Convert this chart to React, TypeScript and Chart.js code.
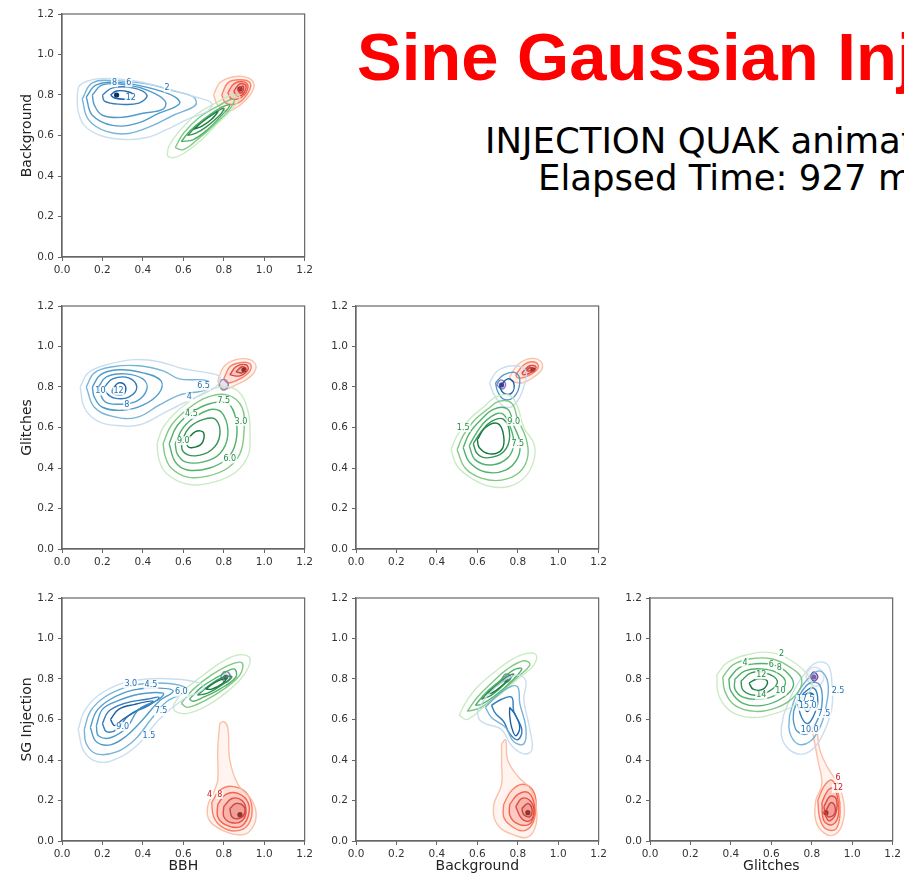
import React, { useEffect, useRef } from "react";
import { Chart, registerables } from "chart.js";
Chart.register(...registerables);

// ---------- text / axes ----------
const TITLE = "Sine Gaussian Injection";
const SUBTITLE_1 = "INJECTION QUAK animation";
const SUBTITLE_2 = "Elapsed Time: 927 ms";
const CLASS_NAMES = ["BBH", "Background", "Glitches", "SG Injection"];
const TICK_VALUES = [0, 0.2, 0.4, 0.6, 0.8, 1.0, 1.2];
const TICK_LABELS = ["0.0", "0.2", "0.4", "0.6", "0.8", "1.0", "1.2"];

type Pt = [number, number];
type Ring = Pt[];

// ---------- panel A: BBH (x) vs Background (y) ----------
const A_BLUE: Ring[] = [
  [[0.075,0.80],[0.09,0.85],[0.18,0.88],[0.32,0.875],[0.45,0.85],[0.56,0.82],[0.66,0.79],[0.74,0.76],[0.72,0.72],[0.62,0.68],[0.52,0.63],[0.42,0.59],[0.31,0.58],[0.19,0.60],[0.11,0.65],[0.08,0.72]],
  [[0.10,0.78],[0.15,0.86],[0.28,0.87],[0.42,0.855],[0.55,0.82],[0.65,0.79],[0.66,0.75],[0.55,0.70],[0.45,0.65],[0.33,0.61],[0.22,0.62],[0.13,0.68]],
  [[0.12,0.79],[0.17,0.85],[0.30,0.86],[0.45,0.83],[0.56,0.79],[0.58,0.755],[0.48,0.71],[0.37,0.66],[0.25,0.65],[0.15,0.70]],
  [[0.15,0.80],[0.20,0.85],[0.32,0.85],[0.43,0.82],[0.51,0.77],[0.50,0.73],[0.40,0.71],[0.30,0.69],[0.20,0.70],[0.16,0.75]],
  [[0.20,0.80],[0.25,0.835],[0.35,0.835],[0.42,0.80],[0.38,0.76],[0.28,0.755],[0.21,0.77]],
  [[0.24,0.80],[0.27,0.82],[0.33,0.815],[0.36,0.795],[0.32,0.78],[0.26,0.785]],
];
const A_BLUE_PEAK: Pt = [0.27, 0.80];
const A_GREEN: Ring[] = [
  [[0.52,0.50],[0.53,0.55],[0.58,0.62],[0.66,0.70],[0.76,0.76],[0.84,0.80],[0.88,0.79],[0.84,0.73],[0.76,0.65],[0.68,0.57],[0.60,0.51],[0.55,0.49]],
  [[0.56,0.54],[0.60,0.61],[0.68,0.69],[0.78,0.75],[0.85,0.78],[0.83,0.73],[0.75,0.65],[0.67,0.58],[0.60,0.53]],
  [[0.59,0.57],[0.63,0.62],[0.70,0.68],[0.79,0.74],[0.83,0.75],[0.79,0.70],[0.72,0.63],[0.65,0.58]],
  [[0.62,0.60],[0.67,0.65],[0.74,0.70],[0.80,0.735],[0.78,0.70],[0.71,0.64],[0.66,0.61]],
  [[0.65,0.63],[0.71,0.68],[0.77,0.72],[0.74,0.68],[0.69,0.645]],
];
const A_RED: Ring[] = [
  [[0.75,0.80],[0.78,0.86],[0.85,0.89],[0.92,0.885],[0.95,0.85],[0.93,0.80],[0.88,0.75],[0.82,0.72],[0.77,0.75]],
  [[0.79,0.80],[0.82,0.86],[0.88,0.875],[0.93,0.86],[0.92,0.81],[0.87,0.76],[0.81,0.76]],
  [[0.82,0.81],[0.85,0.855],[0.90,0.865],[0.92,0.84],[0.89,0.79],[0.84,0.78]],
  [[0.85,0.82],[0.88,0.855],[0.91,0.845],[0.89,0.80],[0.86,0.80]],
  [[0.87,0.825],[0.895,0.845],[0.895,0.82],[0.88,0.81]],
];
const A_RED_PEAK: Pt = [0.88, 0.83];
const A_LABELS: [number, number, string, string][] = [
  [0.34, 0.785, "12", "Blues"], [0.26, 0.86, "8", "Blues"], [0.33, 0.86, "6", "Blues"], [0.52, 0.835, "2", "Blues"],
];

// ---------- panel B: BBH (x) vs Glitches (y) ----------
const B_BLUE: Ring[] = [
  [[0.09,0.80],[0.13,0.87],[0.22,0.91],[0.36,0.935],[0.48,0.925],[0.60,0.89],[0.72,0.87],[0.78,0.85],[0.76,0.80],[0.62,0.73],[0.50,0.67],[0.39,0.615],[0.27,0.61],[0.17,0.635],[0.11,0.70]],
  [[0.12,0.80],[0.16,0.87],[0.25,0.90],[0.38,0.905],[0.50,0.88],[0.58,0.84],[0.72,0.83],[0.72,0.79],[0.58,0.76],[0.48,0.71],[0.37,0.65],[0.25,0.655],[0.16,0.70]],
  [[0.15,0.80],[0.19,0.86],[0.28,0.885],[0.40,0.87],[0.49,0.83],[0.48,0.77],[0.40,0.71],[0.30,0.685],[0.20,0.70],[0.16,0.75]],
  [[0.18,0.80],[0.22,0.85],[0.31,0.865],[0.40,0.84],[0.42,0.79],[0.37,0.73],[0.28,0.715],[0.21,0.73]],
  [[0.21,0.80],[0.25,0.84],[0.33,0.845],[0.37,0.80],[0.33,0.75],[0.26,0.745],[0.22,0.77]],
  [[0.25,0.79],[0.28,0.82],[0.31,0.81],[0.31,0.77],[0.28,0.76],[0.25,0.77]],
];
const B_GREEN: Ring[] = [
  [[0.47,0.52],[0.50,0.60],[0.58,0.69],[0.68,0.76],[0.78,0.80],[0.87,0.78],[0.92,0.68],[0.93,0.55],[0.92,0.46],[0.86,0.38],[0.75,0.33],[0.62,0.32],[0.52,0.37],[0.48,0.44]],
  [[0.50,0.52],[0.54,0.61],[0.62,0.69],[0.72,0.75],[0.82,0.76],[0.89,0.70],[0.90,0.58],[0.88,0.47],[0.82,0.40],[0.72,0.36],[0.62,0.355],[0.54,0.40],[0.51,0.46]],
  [[0.53,0.52],[0.57,0.61],[0.65,0.68],[0.74,0.72],[0.82,0.72],[0.86,0.64],[0.86,0.53],[0.82,0.45],[0.73,0.40],[0.62,0.39],[0.56,0.43]],
  [[0.56,0.52],[0.60,0.60],[0.67,0.66],[0.75,0.69],[0.80,0.66],[0.82,0.56],[0.78,0.47],[0.70,0.43],[0.61,0.43],[0.57,0.47]],
  [[0.59,0.53],[0.63,0.60],[0.70,0.64],[0.76,0.64],[0.78,0.56],[0.74,0.49],[0.66,0.46],[0.60,0.48]],
  [[0.62,0.54],[0.66,0.58],[0.70,0.575],[0.69,0.52],[0.64,0.50],[0.62,0.51]],
];
const B_RED: Ring[] = [
  [[0.77,0.83],[0.80,0.90],[0.86,0.935],[0.93,0.935],[0.96,0.90],[0.93,0.85],[0.86,0.81],[0.80,0.79]],
  [[0.80,0.84],[0.83,0.90],[0.88,0.92],[0.93,0.915],[0.93,0.88],[0.88,0.84],[0.82,0.82]],
  [[0.83,0.86],[0.86,0.90],[0.91,0.91],[0.92,0.885],[0.88,0.855]],
  [[0.86,0.875],[0.89,0.90],[0.91,0.89],[0.89,0.87]],
];
const B_RED_PEAK: Pt = [0.90, 0.885];
const B_PURPLE: Ring[] = [
  [[0.775,0.81],[0.79,0.835],[0.815,0.83],[0.82,0.80],[0.795,0.785]],
];
const B_LABELS: [number, number, string, string][] = [
  [0.28, 0.78, "12", "Blues"], [0.32, 0.71, "8", "Blues"], [0.19, 0.78, "10", "Blues"], [0.63, 0.75, "4", "Blues"], [0.70, 0.805, "6.5", "Blues"],
  [0.80, 0.73, "7.5", "Greens"], [0.64, 0.665, "4.5", "Greens"], [0.60, 0.535, "9.0", "Greens"], [0.83, 0.445, "6.0", "Greens"], [0.885, 0.63, "3.0", "Greens"],
];

// ---------- panel C: Background (x) vs Glitches (y) ----------
const C_GREEN: Ring[] = [
  [[0.47,0.49],[0.50,0.56],[0.56,0.64],[0.63,0.70],[0.69,0.75],[0.76,0.76],[0.80,0.70],[0.83,0.60],[0.88,0.52],[0.88,0.44],[0.84,0.36],[0.76,0.31],[0.66,0.31],[0.57,0.35],[0.50,0.41]],
  [[0.50,0.49],[0.53,0.56],[0.58,0.63],[0.65,0.69],[0.71,0.73],[0.77,0.72],[0.80,0.64],[0.84,0.55],[0.85,0.46],[0.81,0.38],[0.72,0.34],[0.62,0.35],[0.54,0.40]],
  [[0.53,0.50],[0.56,0.57],[0.61,0.63],[0.68,0.69],[0.75,0.69],[0.78,0.61],[0.81,0.53],[0.80,0.45],[0.74,0.39],[0.64,0.38],[0.56,0.43]],
  [[0.56,0.51],[0.60,0.58],[0.65,0.64],[0.72,0.67],[0.76,0.61],[0.78,0.52],[0.75,0.45],[0.67,0.415],[0.59,0.44]],
  [[0.58,0.52],[0.62,0.58],[0.67,0.63],[0.73,0.64],[0.76,0.56],[0.73,0.48],[0.65,0.45],[0.60,0.47]],
  [[0.60,0.54],[0.64,0.60],[0.70,0.62],[0.73,0.56],[0.72,0.49],[0.66,0.47],[0.61,0.50]],
];
const C_BLUE: Ring[] = [
  [[0.66,0.82],[0.70,0.88],[0.78,0.905],[0.84,0.88],[0.83,0.80],[0.79,0.72],[0.74,0.70],[0.69,0.75]],
  [[0.69,0.82],[0.73,0.86],[0.79,0.87],[0.81,0.82],[0.78,0.75],[0.73,0.74],[0.70,0.78]],
  [[0.71,0.80],[0.75,0.84],[0.78,0.82],[0.77,0.77],[0.73,0.77]],
];
const C_RED: Ring[] = [
  [[0.76,0.85],[0.80,0.91],[0.86,0.94],[0.91,0.93],[0.92,0.89],[0.88,0.85],[0.82,0.82],[0.77,0.83]],
  [[0.79,0.86],[0.83,0.91],[0.87,0.925],[0.90,0.91],[0.89,0.88],[0.84,0.85],[0.80,0.845]],
  [[0.82,0.87],[0.86,0.905],[0.89,0.90],[0.87,0.875],[0.83,0.86]],
  [[0.84,0.88],[0.86,0.895],[0.875,0.89],[0.86,0.88]],
];
const C_RED_PEAK: Pt = [0.875, 0.885];
const C_PURPLE: Ring[] = [
  [[0.695,0.81],[0.715,0.835],[0.74,0.815],[0.725,0.79]],
];
const C_PURPLE_PEAK: Pt = [0.72, 0.81];
const C_LABELS: [number, number, string, string][] = [
  [0.78, 0.63, "9.0", "Greens"], [0.53, 0.60, "1.5", "Greens"], [0.80, 0.52, "7.5", "Greens"],
];

// ---------- panel D: BBH (x) vs SG Injection (y) ----------
const D_BLUE: Ring[] = [
  [[0.08,0.55],[0.11,0.64],[0.18,0.72],[0.30,0.78],[0.42,0.80],[0.55,0.80],[0.68,0.78],[0.70,0.75],[0.60,0.70],[0.48,0.60],[0.38,0.48],[0.28,0.41],[0.18,0.39],[0.11,0.44]],
  [[0.11,0.55],[0.14,0.64],[0.21,0.71],[0.32,0.76],[0.45,0.78],[0.58,0.77],[0.62,0.74],[0.52,0.69],[0.44,0.60],[0.36,0.50],[0.27,0.44],[0.17,0.43],[0.12,0.48]],
  [[0.14,0.56],[0.17,0.64],[0.24,0.70],[0.35,0.745],[0.48,0.755],[0.55,0.74],[0.48,0.69],[0.40,0.60],[0.32,0.52],[0.24,0.475],[0.17,0.49]],
  [[0.17,0.57],[0.20,0.65],[0.27,0.69],[0.38,0.725],[0.50,0.73],[0.48,0.70],[0.38,0.65],[0.32,0.56],[0.24,0.51],[0.18,0.52]],
  [[0.20,0.58],[0.23,0.64],[0.31,0.68],[0.42,0.70],[0.48,0.71],[0.43,0.67],[0.33,0.62],[0.27,0.55],[0.22,0.54]],
  [[0.24,0.60],[0.28,0.65],[0.36,0.675],[0.45,0.69],[0.38,0.65],[0.30,0.60],[0.26,0.57]],
];
const D_GREEN: Ring[] = [
  [[0.55,0.67],[0.60,0.74],[0.70,0.82],[0.80,0.89],[0.88,0.92],[0.93,0.90],[0.90,0.82],[0.82,0.74],[0.72,0.67],[0.62,0.63],[0.56,0.64]],
  [[0.59,0.68],[0.65,0.75],[0.74,0.82],[0.83,0.87],[0.89,0.88],[0.88,0.82],[0.80,0.75],[0.70,0.69],[0.62,0.66]],
  [[0.63,0.70],[0.69,0.76],[0.77,0.81],[0.85,0.85],[0.86,0.81],[0.78,0.75],[0.70,0.71],[0.65,0.69]],
  [[0.67,0.72],[0.73,0.77],[0.80,0.81],[0.84,0.81],[0.79,0.77],[0.72,0.73]],
  [[0.71,0.75],[0.76,0.785],[0.81,0.80],[0.79,0.775],[0.74,0.75]],
];
const D_PURPLE: Ring[] = [
  [[0.785,0.81],[0.80,0.835],[0.825,0.83],[0.83,0.80],[0.805,0.785]],
];
const D_PURPLE_PEAK: Pt = [0.81, 0.81];
const D_RED: Ring[] = [
  [[0.78,0.58],[0.80,0.59],[0.82,0.56],[0.83,0.40],[0.87,0.28],[0.94,0.20],[0.96,0.12],[0.93,0.05],[0.88,0.03],[0.80,0.05],[0.73,0.10],[0.72,0.17],[0.75,0.24],[0.77,0.30],[0.77,0.45]],
  [[0.74,0.19],[0.78,0.25],[0.84,0.27],[0.91,0.24],[0.94,0.16],[0.92,0.08],[0.86,0.05],[0.79,0.07],[0.75,0.12]],
  [[0.77,0.18],[0.81,0.23],[0.87,0.235],[0.92,0.19],[0.92,0.12],[0.88,0.07],[0.81,0.08],[0.77,0.12]],
  [[0.80,0.17],[0.84,0.21],[0.89,0.20],[0.91,0.15],[0.89,0.10],[0.84,0.09],[0.80,0.12]],
  [[0.83,0.16],[0.86,0.185],[0.90,0.17],[0.90,0.13],[0.87,0.11],[0.84,0.12]],
];
const D_RED_PEAK: Pt = [0.88, 0.13];
const D_LABELS: [number, number, string, string][] = [
  [0.34, 0.775, "3.0", "Blues"], [0.44, 0.77, "4.5", "Blues"], [0.30, 0.565, "9.0", "Blues"], [0.49, 0.64, "7.5", "Blues"],
  [0.43, 0.52, "1.5", "Blues"], [0.59, 0.735, "6.0", "Blues"], [0.78, 0.23, "8", "Reds"], [0.73, 0.23, "4", "Reds"],
];

// ---------- panel E: Background (x) vs SG Injection (y) ----------
const E_GREEN: Ring[] = [
  [[0.51,0.62],[0.54,0.68],[0.60,0.76],[0.68,0.83],[0.76,0.89],[0.84,0.925],[0.89,0.92],[0.88,0.87],[0.80,0.80],[0.72,0.73],[0.63,0.66],[0.55,0.60]],
  [[0.55,0.64],[0.60,0.71],[0.67,0.78],[0.75,0.85],[0.83,0.89],[0.86,0.87],[0.80,0.81],[0.71,0.73],[0.62,0.66]],
  [[0.59,0.67],[0.64,0.73],[0.71,0.79],[0.78,0.845],[0.82,0.85],[0.77,0.79],[0.69,0.72],[0.62,0.675]],
  [[0.62,0.70],[0.67,0.75],[0.73,0.80],[0.78,0.825],[0.74,0.78],[0.67,0.72]],
  [[0.65,0.73],[0.70,0.77],[0.75,0.80],[0.72,0.765],[0.67,0.73]],
];
const E_BLUE: Ring[] = [
  [[0.60,0.64],[0.65,0.72],[0.73,0.79],[0.80,0.82],[0.84,0.79],[0.83,0.70],[0.86,0.55],[0.87,0.45],[0.83,0.43],[0.77,0.47],[0.72,0.55],[0.64,0.58],[0.61,0.60]],
  [[0.64,0.66],[0.69,0.71],[0.76,0.76],[0.80,0.76],[0.81,0.68],[0.84,0.56],[0.83,0.48],[0.78,0.49],[0.74,0.56],[0.67,0.61]],
  [[0.67,0.67],[0.72,0.70],[0.77,0.71],[0.78,0.64],[0.82,0.55],[0.80,0.50],[0.76,0.53],[0.73,0.59],[0.69,0.63]],
  [[0.76,0.66],[0.79,0.62],[0.81,0.56],[0.79,0.52],[0.77,0.56],[0.76,0.62]],
];
const E_PURPLE: Ring[] = [
  [[0.72,0.80],[0.74,0.825],[0.765,0.81],[0.75,0.785]],
];
const E_RED: Ring[] = [
  [[0.72,0.48],[0.74,0.50],[0.75,0.40],[0.80,0.32],[0.86,0.26],[0.89,0.18],[0.89,0.08],[0.85,0.02],[0.78,0.03],[0.70,0.08],[0.68,0.17],[0.72,0.28],[0.72,0.38]],
  [[0.73,0.18],[0.77,0.25],[0.83,0.28],[0.88,0.24],[0.89,0.16],[0.87,0.08],[0.82,0.05],[0.76,0.08],[0.73,0.12]],
  [[0.76,0.18],[0.80,0.23],[0.85,0.24],[0.88,0.19],[0.88,0.12],[0.85,0.08],[0.79,0.09],[0.76,0.13]],
  [[0.79,0.17],[0.82,0.21],[0.86,0.20],[0.88,0.15],[0.86,0.10],[0.82,0.11]],
  [[0.82,0.16],[0.85,0.185],[0.87,0.16],[0.86,0.12],[0.83,0.13]],
];
const E_RED_PEAK: Pt = [0.85, 0.14];
const E_LABELS: [number, number, string, string][] = [];

// ---------- panel F: Glitches (x) vs SG Injection (y) ----------
const F_GREEN: Ring[] = [
  [[0.33,0.82],[0.38,0.88],[0.48,0.92],[0.60,0.93],[0.70,0.89],[0.78,0.82],[0.80,0.76],[0.73,0.68],[0.62,0.63],[0.50,0.61],[0.40,0.64],[0.34,0.72]],
  [[0.36,0.81],[0.41,0.87],[0.50,0.90],[0.60,0.90],[0.69,0.86],[0.75,0.80],[0.72,0.72],[0.63,0.66],[0.52,0.64],[0.42,0.67],[0.37,0.74]],
  [[0.39,0.80],[0.44,0.855],[0.52,0.875],[0.61,0.87],[0.68,0.83],[0.71,0.77],[0.66,0.71],[0.56,0.67],[0.46,0.68],[0.40,0.74]],
  [[0.42,0.80],[0.47,0.84],[0.55,0.85],[0.63,0.83],[0.67,0.78],[0.62,0.72],[0.54,0.70],[0.46,0.71],[0.42,0.75]],
  [[0.45,0.79],[0.50,0.83],[0.57,0.83],[0.63,0.79],[0.59,0.74],[0.52,0.72],[0.46,0.745]],
  [[0.49,0.78],[0.53,0.80],[0.58,0.79],[0.56,0.75],[0.51,0.75]],
];
const F_BLUE: Ring[] = [
  [[0.66,0.62],[0.70,0.72],[0.76,0.82],[0.82,0.88],[0.88,0.87],[0.90,0.78],[0.90,0.66],[0.87,0.56],[0.82,0.47],[0.76,0.43],[0.69,0.45],[0.65,0.52]],
  [[0.69,0.62],[0.72,0.71],[0.78,0.80],[0.84,0.84],[0.88,0.78],[0.87,0.66],[0.84,0.56],[0.79,0.49],[0.73,0.48],[0.69,0.54]],
  [[0.71,0.64],[0.74,0.72],[0.79,0.78],[0.84,0.77],[0.85,0.67],[0.82,0.58],[0.78,0.53],[0.73,0.54],[0.71,0.59]],
  [[0.73,0.68],[0.76,0.73],[0.81,0.755],[0.83,0.69],[0.81,0.62],[0.78,0.58],[0.75,0.61]],
  [[0.75,0.70],[0.78,0.73],[0.81,0.72],[0.80,0.67],[0.78,0.64],[0.76,0.66]],
];
const F_PURPLE: Ring[] = [
  [[0.77,0.81],[0.79,0.85],[0.83,0.855],[0.86,0.82],[0.84,0.77],[0.80,0.77]],
  [[0.79,0.81],[0.81,0.835],[0.83,0.81],[0.81,0.79]],
];
const F_PURPLE_PEAK: Pt = [0.81, 0.81];
const F_RED: Ring[] = [
  [[0.80,0.56],[0.82,0.57],[0.84,0.45],[0.88,0.36],[0.93,0.28],[0.96,0.18],[0.95,0.08],[0.91,0.03],[0.86,0.04],[0.82,0.10],[0.82,0.20],[0.85,0.28],[0.83,0.40]],
  [[0.83,0.20],[0.86,0.27],[0.90,0.30],[0.93,0.24],[0.94,0.14],[0.92,0.06],[0.87,0.06],[0.84,0.11]],
  [[0.85,0.19],[0.88,0.25],[0.91,0.26],[0.93,0.20],[0.93,0.12],[0.90,0.08],[0.86,0.10]],
  [[0.86,0.17],[0.89,0.22],[0.92,0.21],[0.92,0.14],[0.89,0.10],[0.87,0.12]],
  [[0.87,0.15],[0.895,0.19],[0.915,0.17],[0.91,0.13],[0.88,0.12]],
];
const F_RED_PEAK: Pt = [0.87, 0.14];
const F_LABELS: [number, number, string, string][] = [
  [0.65, 0.925, "2", "Greens"], [0.47, 0.88, "4", "Greens"], [0.60, 0.87, "6", "Greens"], [0.64, 0.855, "8", "Greens"],
  [0.55, 0.82, "12", "Greens"], [0.55, 0.72, "14", "Greens"], [0.645, 0.74, "10", "Greens"],
  [0.77, 0.70, "17.5", "Blues"], [0.78, 0.665, "15.0", "Blues"], [0.79, 0.55, "10.0", "Blues"], [0.86, 0.63, "7.5", "Blues"], [0.93, 0.74, "2.5", "Blues"],
  [0.93, 0.31, "6", "Reds"], [0.93, 0.26, "12", "Reds"],
];

// ---------- styling ----------
const CMAPS: Record<string, string[]> = {
  Blues: ["#c6dbef", "#9ecae1", "#6baed6", "#4292c6", "#2171b5", "#08519c", "#08306b"],
  Greens: ["#c7e9c0", "#a1d99b", "#74c476", "#41ab5d", "#238b45", "#006d2c", "#00441b"],
  Reds: ["#fcbba1", "#fc9272", "#fb6a4a", "#ef3b2c", "#cb181d", "#a50f15", "#67000d"],
  Purples: ["#dadaeb", "#bcbddc", "#9e9ac8", "#807dba", "#6a51a3", "#54278f", "#3f007d"],
};
const FONT = "'DejaVu Sans', sans-serif";
const AXIS_COLOR = "#666";

interface Blob { cmap: string; rings: Ring[]; peak?: Pt; peakColor?: string; fill?: boolean }
interface PanelCfg { left: number; top: number; h: number; xTitle: string; yTitle: string; blobs: Blob[]; labels: [number, number, string, string][] }

const PANELS: PanelCfg[] = [
  { left: 0, top: 0, h: 287, xTitle: "", yTitle: CLASS_NAMES[1], labels: A_LABELS, blobs: [
    { cmap: "Blues", rings: A_BLUE, peak: A_BLUE_PEAK, peakColor: "#08306b" },
    { cmap: "Greens", rings: A_GREEN },
    { cmap: "Reds", rings: A_RED, peak: A_RED_PEAK, peakColor: "#2a0000", fill: true },
  ] },
  { left: 0, top: 292, h: 287, xTitle: "", yTitle: CLASS_NAMES[2], labels: B_LABELS, blobs: [
    { cmap: "Blues", rings: B_BLUE },
    { cmap: "Greens", rings: B_GREEN },
    { cmap: "Purples", rings: B_PURPLE, fill: true },
    { cmap: "Reds", rings: B_RED, peak: B_RED_PEAK, peakColor: "#2a0000", fill: true },
  ] },
  { left: 294, top: 292, h: 287, xTitle: "", yTitle: "", labels: C_LABELS, blobs: [
    { cmap: "Greens", rings: C_GREEN },
    { cmap: "Blues", rings: C_BLUE },
    { cmap: "Purples", rings: C_PURPLE, peak: C_PURPLE_PEAK, peakColor: "#54278f", fill: true },
    { cmap: "Reds", rings: C_RED, peak: C_RED_PEAK, peakColor: "#2a0000", fill: true },
  ] },
  { left: 0, top: 584, h: 295, xTitle: CLASS_NAMES[0], yTitle: CLASS_NAMES[3], labels: D_LABELS, blobs: [
    { cmap: "Blues", rings: D_BLUE },
    { cmap: "Greens", rings: D_GREEN },
    { cmap: "Purples", rings: D_PURPLE, peak: D_PURPLE_PEAK, peakColor: "#666", fill: true },
    { cmap: "Reds", rings: D_RED, peak: D_RED_PEAK, peakColor: "#1a0000", fill: true },
  ] },
  { left: 294, top: 584, h: 295, xTitle: CLASS_NAMES[1], yTitle: "", labels: E_LABELS, blobs: [
    { cmap: "Blues", rings: E_BLUE },
    { cmap: "Greens", rings: E_GREEN },
    { cmap: "Purples", rings: E_PURPLE, fill: true },
    { cmap: "Reds", rings: E_RED, peak: E_RED_PEAK, peakColor: "#1a0000", fill: true },
  ] },
  { left: 588, top: 584, h: 295, xTitle: CLASS_NAMES[2], yTitle: "", labels: F_LABELS, blobs: [
    { cmap: "Greens", rings: F_GREEN },
    { cmap: "Blues", rings: F_BLUE },
    { cmap: "Purples", rings: F_PURPLE, peak: F_PURPLE_PEAK, peakColor: "#6a51a3", fill: true },
    { cmap: "Reds", rings: F_RED, peak: F_RED_PEAK, peakColor: "#1a0000", fill: true },
  ] },
];

function rgba(hex: string, a: number) {
  const n = parseInt(hex.slice(1), 16);
  return `rgba(${(n >> 16) & 255},${(n >> 8) & 255},${n & 255},${a})`;
}

function buildDatasets(blobs: Blob[]) {
  const ds: any[] = [];
  blobs.forEach((b) => {
    const cm = CMAPS[b.cmap];
    const n = b.rings.length;
    b.rings.forEach((ring, i) => {
      const ci = n === 1 ? 3 : Math.round(1 + (i * 4) / (n - 1)) - (i === 0 ? 1 : 0);
      const col = cm[Math.min(6, ci)];
      ds.push({
        data: ring.concat([ring[0]]).map(([x, y]) => ({ x, y })),
        showLine: true,
        borderColor: rgba(col, 0.92),
        borderWidth: 1.4,
        pointRadius: 0,
        tension: 0.4,
        fill: b.fill ? "shape" : false,
        backgroundColor: b.fill ? rgba(col, 0.16) : "transparent",
      });
    });
    if (b.peak) {
      ds.push({
        data: [{ x: b.peak[0], y: b.peak[1] }],
        showLine: false,
        pointRadius: 2.6,
        pointBorderWidth: 0,
        backgroundColor: b.peakColor,
        borderColor: b.peakColor,
      });
    }
  });
  return ds;
}

function Panel({ cfg }: { cfg: PanelCfg }) {
  const ref = useRef<HTMLCanvasElement>(null);
  useEffect(() => {
    const HX = cfg.h - 14 - 243;
    const frame = {
      id: "frame",
      afterDraw(chart: any) {
        const { ctx, chartArea: a } = chart;
        ctx.save();
        ctx.strokeStyle = AXIS_COLOR;
        ctx.lineWidth = 1.2;
        ctx.strokeRect(a.left, a.top, a.right - a.left, a.bottom - a.top);
        ctx.restore();
      },
    };
    const clabels = {
      id: "clabels",
      afterDatasetsDraw(chart: any) {
        const { ctx } = chart;
        const xs = chart.scales.x, ys = chart.scales.y;
        ctx.save();
        ctx.font = `8px ${FONT}`;
        ctx.textAlign = "center";
        ctx.textBaseline = "middle";
        cfg.labels.forEach(([vx, vy, text, cmap]) => {
          const px = xs.getPixelForValue(vx), py = ys.getPixelForValue(vy);
          const w = ctx.measureText(text).width;
          ctx.fillStyle = "rgba(255,255,255,0.85)";
          ctx.fillRect(px - w / 2 - 1, py - 4.5, w + 2, 9);
          ctx.fillStyle = CMAPS[cmap][4];
          ctx.fillText(text, px, py);
        });
        ctx.restore();
      },
    };
    const tickFont = { family: FONT, size: 10.5 };
    const titleFont = { family: FONT, size: 14 };
    const chart = new Chart(ref.current!, {
      type: "scatter",
      data: { datasets: buildDatasets(cfg.blobs) },
      plugins: [clabels, frame],
      options: {
        animation: false,
        responsive: false,
        maintainAspectRatio: false,
        layout: { padding: { top: 14, right: 10, left: 0, bottom: 0 } },
        plugins: { legend: { display: false }, tooltip: { enabled: false } },
        elements: { line: { capBezierPoints: true } },
        scales: {
          x: {
            type: "linear", min: 0, max: 1.2,
            afterBuildTicks: (s: any) => { s.ticks = TICK_VALUES.map((v) => ({ value: v })); },
            afterFit: (s: any) => { s.height = HX; },
            ticks: { callback: (_v: any, i: number) => TICK_LABELS[i], font: tickFont, color: "#333", padding: 3, maxRotation: 0, autoSkip: false },
            grid: { drawOnChartArea: false, drawTicks: true, tickLength: 4, color: AXIS_COLOR, lineWidth: 1 },
            border: { display: true, color: AXIS_COLOR, width: 1.2 },
            title: { display: !!cfg.xTitle, text: cfg.xTitle, font: titleFont, color: "#222", padding: { top: 0, bottom: 4 } },
          },
          y: {
            type: "linear", min: 0, max: 1.2,
            afterBuildTicks: (s: any) => { s.ticks = TICK_VALUES.map((v) => ({ value: v })); },
            afterFit: (s: any) => { s.width = 62; },
            ticks: { callback: (_v: any, i: number) => TICK_LABELS[i], font: tickFont, color: "#333", padding: 4, autoSkip: false },
            grid: { drawOnChartArea: false, drawTicks: true, tickLength: 4, color: AXIS_COLOR, lineWidth: 1 },
            border: { display: true, color: AXIS_COLOR, width: 1.2 },
            title: { display: !!cfg.yTitle, text: cfg.yTitle, font: titleFont, color: "#222", padding: { top: 19, bottom: 0 } },
          },
        },
      } as any,
    });
    return () => chart.destroy();
  }, []);
  return (
    <canvas
      ref={ref}
      width={316}
      height={cfg.h}
      style={{ position: "absolute", left: cfg.left, top: cfg.top, width: 316, height: cfg.h }}
    />
  );
}

export default function App() {
  return (
    <div style={{ position: "fixed", left: 0, top: 0, width: 904, height: 879, overflow: "hidden", background: "#fff" }}>
      {PANELS.map((p, i) => (
        <Panel key={i} cfg={p} />
      ))}
      <div style={{ position: "absolute", left: 357, top: 23, fontFamily: "'Liberation Sans', Arial, sans-serif", fontWeight: 700, fontSize: 67, lineHeight: "67px", color: "#ff0000", whiteSpace: "nowrap" }}>
        {TITLE}
      </div>
      <div style={{ position: "absolute", left: 485, top: 123, fontFamily: FONT, fontSize: 35.5, lineHeight: "35.5px", color: "#000", whiteSpace: "nowrap" }}>
        {SUBTITLE_1}
      </div>
      <div style={{ position: "absolute", left: 538, top: 160, fontFamily: FONT, fontSize: 35.5, lineHeight: "35.5px", color: "#000", whiteSpace: "nowrap" }}>
        {SUBTITLE_2}
      </div>
    </div>
  );
}
